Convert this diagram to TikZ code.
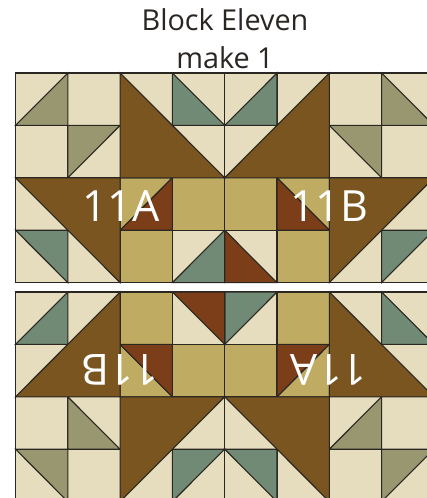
\documentclass[tikz,border=0pt]{standalone}
\usepackage{fontspec}
\setmainfont{Open Sans}
\definecolor{cream}{HTML}{E6DDBE}
\definecolor{olive}{HTML}{99976F}
\definecolor{sage}{HTML}{708A75}
\definecolor{brownq}{HTML}{7A5520}
\definecolor{rust}{HTML}{7B3E18}
\definecolor{tan}{HTML}{BFAB62}
\definecolor{ink}{HTML}{2A2622}
\tikzset{
  piece/.style={draw=ink,line width=1.1pt,line join=miter},
  patch/.style={piece,fill=cream},
  label11/.style={text=white,font=\fontsize{43}{43}\selectfont,inner sep=0pt},
  titletext/.style={text=ink,font=\fontsize{28.8}{28.8}\selectfont,inner sep=0pt},
  blockgrid/.style={x=52.3pt,y=-52.4pt}
}
\newcommand{\tris}[2]{\foreach \a/\b/\c/\d/\e/\f in {#2}{\path[piece,fill=#1] (\a,\b)--(\c,\d)--(\e,\f)--cycle;}}
\newcommand{\squares}[1]{\foreach \a/\b in {#1}{\path[piece,fill=tan] (\a,\b) rectangle ++(1,1);}}
\newcommand{\cells}{\foreach \i in {0,...,7}{\foreach \j in {0,...,3}{\path[patch] (\i,\j) rectangle ++(1,1);}}}
\begin{document}
\begin{tikzpicture}[x=1pt,y=-1pt]
\useasboundingbox (0,0) rectangle (427,498);
\clip (0,0) rectangle (427,498);
\fill[white] (0,0) rectangle (427,498);
\begin{scope}[shift={(15.5,73)},blockgrid]
\cells
\tris{olive}{0/1/1/0/1/1,1/1/2/1/1/2,6/1/7/1/7/2,7/0/7/1/8/1}
\tris{sage}{3/0/3/1/4/1,4/1/5/0/5/1,0/3/1/3/1/4,7/3/8/3/7/4,3/4/4/3/4/4}
\squares{2/3,3/2,4/2,5/3}
\tris{tan}{2/2/3/2/2/3,5/2/6/2/6/3}
\tris{rust}{4/3/5/4/4/4,2/3/3/2/3/3,5/2/6/3/5/3}
\tris{brownq}{2/0/2/2/4/2,6/0/6/2/4/2,0/2/2/2/2/4,6/2/8/2/6/4}
\end{scope}
\begin{scope}[shift={(15.5,292)},blockgrid]
\cells
\tris{olive}{1/2/2/3/1/3,6/3/7/2/7/3,0/3/1/3/1/4,7/3/8/3/7/4}
\tris{sage}{0/1/1/0/1/1,4/0/5/0/4/1,7/0/7/1/8/1,3/3/4/3/3/4,4/3/5/3/5/4}
\squares{2/0,5/0,3/1,4/1}
\tris{tan}{2/1/2/2/3/2,6/1/6/2/5/2}
\tris{rust}{3/0/4/0/4/1,2/1/3/1/3/2,5/1/6/1/5/2}
\tris{brownq}{2/0/2/2/0/2,6/0/6/2/8/2,2/2/4/2/2/4,4/2/6/2/6/4}
\end{scope}
\node[titletext] (title1) at (225,20) {Block Eleven};
\node[titletext] (title2) at (225,58) {make 1};
\node[label11] (a1) at (121,206) {11A};
\node[label11] (b1) at (329.5,206) {11B};
\node[label11,rotate=180] (b2) at (120,370) {11B};
\node[label11,rotate=180] (a2) at (328.5,370) {11A};
\end{tikzpicture}
\end{document}
